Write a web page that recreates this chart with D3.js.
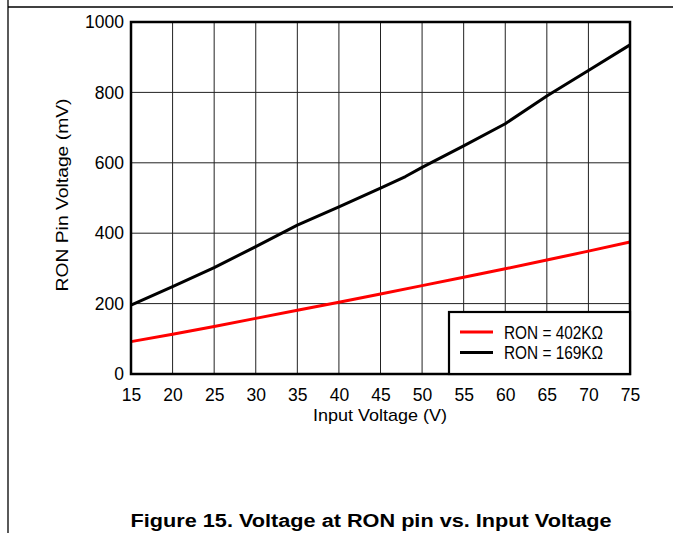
<!DOCTYPE html>
<html>
<head>
<meta charset="utf-8">
<script src="https://cdn.jsdelivr.net/npm/d3@7"></script>
<style>
  body { margin: 0; background: #fff; }
  svg text { font-family: "Liberation Sans", Arial, sans-serif; }
</style>
</head>
<body>
<div id="chart-area"></div>
<script>
const chartAreaWidth = 673
const chartAreaHeight = 533

const margin = {top: 22, right: 43, bottom: 159, left: 131}
const width = 630 - margin.left;
const height = 374 - margin.top;

// data
const xTicks = [15, 20, 25, 30, 35, 40, 45, 50, 55, 60, 65, 70, 75];
const yTicks = [0, 200, 400, 600, 800, 1000];

const ron402V = [15, 20, 25, 30, 35, 40, 45, 50, 55, 60, 65, 70, 75];
const ron402mV = [92, 113, 135, 158, 181, 204, 227, 251, 275, 299, 324, 349, 375];

const ron169V = [15, 20, 25, 30, 35, 40, 45, 48, 50, 55, 60, 65, 70, 75];
const ron169mV = [196, 248, 302, 362, 423, 475, 528, 561, 587, 648, 711, 790, 862, 935];

const seriesNames = ["RON = 402K\u03A9", "RON = 169K\u03A9"];
const seriesColors = ["#ff0000", "#000000"];

const svg = d3.select("#chart-area").append("svg")
    .attr("width", chartAreaWidth)
    .attr("height", chartAreaHeight);

// page frame lines
svg.append("line").attr("x1", 8).attr("x2", 8).attr("y1", 0).attr("y2", chartAreaHeight)
    .attr("stroke", "#000").attr("stroke-width", 1.3);
svg.append("line").attr("x1", 8).attr("x2", chartAreaWidth).attr("y1", 7).attr("y2", 7)
    .attr("stroke", "#000").attr("stroke-width", 1.3);

const g = svg.append("g")
    .attr("transform", `translate(${margin.left}, ${margin.top})`);

const x = d3.scaleLinear().domain([15, 75]).range([0, width]);
const y = d3.scaleLinear().domain([0, 1000]).range([height, 0]);

// grid
g.append("g")
    .selectAll("line")
    .data(xTicks)
    .enter().append("line")
    .attr("x1", d => x(d)).attr("x2", d => x(d))
    .attr("y1", 0).attr("y2", height)
    .attr("stroke", "#222").attr("stroke-width", 1);

g.append("g")
    .selectAll("line")
    .data(yTicks)
    .enter().append("line")
    .attr("x1", 0).attr("x2", width)
    .attr("y1", d => y(d)).attr("y2", d => y(d))
    .attr("stroke", "#222").attr("stroke-width", 1);

// axes (labels only) - axis() resets font-size, so set it after the call
const xAxisCall = d3.axisBottom(x).tickValues(xTicks).tickSize(0).tickPadding(15)
    .tickFormat(d3.format("d"));
g.append("g")
    .attr("class", "x axis")
    .attr("transform", `translate(0, ${height})`)
    .call(xAxisCall)
    .attr("font-size", 17.5)
    .call(a => a.select(".domain").remove())
    .selectAll("text")
    .attr("fill", "#000");

const yAxisCall = d3.axisLeft(y).tickValues(yTicks).tickSize(0).tickPadding(7)
    .tickFormat(d3.format("d"));
g.append("g")
    .attr("class", "y axis")
    .call(yAxisCall)
    .attr("font-size", 17.5)
    .call(a => a.select(".domain").remove())
    .selectAll("text")
    .attr("fill", "#000");

// series lines
const line = d3.line()
    .x(d => x(d[0]))
    .y(d => y(d[1]));

const series = [
    d3.zip(ron402V, ron402mV),
    d3.zip(ron169V, ron169mV)
];

g.selectAll(".series")
    .data(series)
    .enter().append("path")
    .attr("class", "series")
    .attr("d", line)
    .attr("fill", "none")
    .attr("stroke", (d, i) => seriesColors[i])
    .attr("stroke-width", 3)
    .attr("stroke-linejoin", "round");

// plot border
g.append("rect")
    .attr("x", 0).attr("y", 0)
    .attr("width", width).attr("height", height)
    .attr("fill", "none")
    .attr("stroke", "#000")
    .attr("stroke-width", 2.5);

// legend
const legend = g.append("g")
    .attr("transform", `translate(${449 - margin.left}, ${312 - margin.top})`);

legend.append("rect")
    .attr("width", 181).attr("height", 62)
    .attr("fill", "#fff")
    .attr("stroke", "#000")
    .attr("stroke-width", 2.2);

seriesNames.forEach((name, i) => {
    legend.append("line")
        .attr("x1", 11).attr("x2", 44)
        .attr("y1", 20 + i * 20.5).attr("y2", 20 + i * 20.5)
        .attr("stroke", seriesColors[i])
        .attr("stroke-width", 3);
    legend.append("text")
        .attr("x", 55)
        .attr("y", 20 + i * 20.5 + 6.5)
        .attr("font-size", "17.5px")
        .attr("textLength", 99)
        .attr("lengthAdjust", "spacingAndGlyphs")
        .text(name);
});

// axis titles
svg.append("text")
    .attr("x", 380)
    .attr("y", 421)
    .attr("text-anchor", "middle")
    .attr("font-size", "17px")
    .attr("textLength", 134)
    .attr("lengthAdjust", "spacingAndGlyphs")
    .text("Input Voltage (V)");

svg.append("text")
    .attr("transform", `translate(68, 195) rotate(-90)`)
    .attr("text-anchor", "middle")
    .attr("font-size", "16px")
    .attr("textLength", 193)
    .attr("lengthAdjust", "spacingAndGlyphs")
    .text("RON Pin Voltage (mV)");

// caption
svg.append("text")
    .attr("x", 371)
    .attr("y", 527)
    .attr("text-anchor", "middle")
    .attr("font-size", "18px")
    .attr("font-weight", "bold")
    .attr("textLength", 481)
    .attr("lengthAdjust", "spacingAndGlyphs")
    .text("Figure 15. Voltage at RON pin vs. Input Voltage");
</script>
</body>
</html>
